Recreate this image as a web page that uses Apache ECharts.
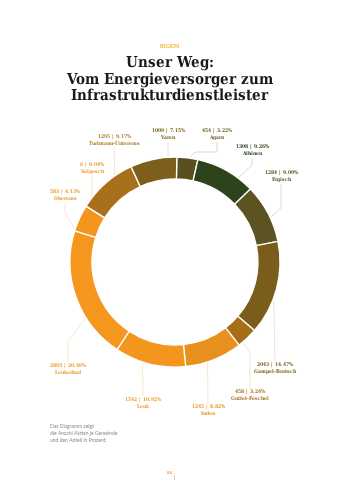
<!DOCTYPE html>
<html>
<head>
<meta charset="utf-8">
<script src="https://cdn.jsdelivr.net/npm/echarts@6/dist/echarts.min.js"></script>
<style>
@font-face { font-family: 'DVSC'; font-weight: bold; src: local('DejaVu Serif Condensed Bold'), local('DejaVuSerifCondensed-Bold'), local('DejaVu Serif Bold'); }
html,body{margin:0;padding:0;background:#fff}#c{width:339px;height:480px}
</style>
</head>
<body>
<div id="c"></div>
<script>
// ---- data ----
const categories = ['Agarn','Albinen','Ergisch','Gampel-Bratsch','Guttet-Feschel','Inden','Leuk','Leukerbad','Oberems','Salgesch','Turtmann-Unterems','Varen'];
const shares = [454, 1308, 1284, 2043, 458, 1245, 1542, 2893, 583, 6, 1295, 1009];
const percents = [3.22, 9.26, 9.09, 14.47, 3.24, 8.82, 10.92, 20.49, 4.13, 0.04, 9.17, 7.15];
const footnoteLines = ['Das Diagramm zeigt', 'die Anzahl Aktien je Gemeinde', 'und den Anteil in Prozent.'];

// ---- styles ----
const FONT = "DVSC, 'DejaVu Serif'";
const segColors = ['#5a4f1f','#2d431c','#5b5322','#7a5d1a','#a66e17','#e8901e','#f4961e','#f5961f','#f4961e','#f4961e','#a8701a','#7d5e1a'];
const labelColors = ['#6b5f2a','#2d431c','#5b5322','#7a5d1a','#a66e17','#ee9424','#f09a2a','#f09a2a','#f09a2a','#f09a2a','#b07a2a','#7d5e1a'];
const lineColors = ['#cfcab8','#cfcab8','#cfcab8','#e2d6bd','#ead7b8','#f6dcb5','#f6dcb5','#f6dcb5','#f6dcb5','#f6dcb5','#f0dcbc','#e2d6bd'];

const CX = 175, CY = 262, R_IN = 83, R_OUT = 105;
// label placement (annotation layout): centre x/y of label block, anchor angle on ring, bend points, line end y
const labelSpec = [
  {x:217, y:134.5, a:81.8, via:[[195,152],[217,152]], end:142},
  {x:252, y:150.5, a:53,   via:[[252,165]], end:158},
  {x:281, y:176.5, a:25,   via:[[281,208]], end:184},
  {x:275, y:368.5, a:-20,  via:[], end:361},
  {x:250, y:395.5, a:-50,  via:[[250,352]], end:388},
  {x:208, y:410.5, a:-72,  via:[], end:403},
  {x:143, y:403.5, a:-108, via:[], end:396},
  {x:68,  y:369.5, a:-148, via:[[68,342]], end:362},
  {x:65,  y:195.5, a:162,  via:[[65,213]], end:203},
  {x:92,  y:168.5, a:null, via:[[92,205]], end:176},
  {x:114, y:140.5, a:125,  via:[], end:148},
  {x:168, y:134.5, a:93.8, via:[], end:142}
];

function render() {
  const data = categories.map((name, i) => ({
    name: name,
    value: shares[i],
    itemStyle: { color: segColors[i] },
    label: {
      rich: {
        v: { fontSize: 5.3, lineHeight: 7, fontWeight: 'bold', color: labelColors[i], fontFamily: FONT },
        n: { fontSize: 5.3, lineHeight: 7, fontWeight: 'bold', color: labelColors[i], fontFamily: FONT }
      }
    },
    labelLine: { lineStyle: { color: lineColors[i], width: 0.7 } }
  }));

  const chart = echarts.init(document.getElementById('c'), null, { renderer: 'canvas' });
  chart.setOption({
    backgroundColor: '#ffffff',
    animation: false,
    title: [
      { text: 'REGION', left: 'center', top: 39,
        textStyle: { fontSize: 5, color: '#f0b23a', fontFamily: 'Lato', fontWeight: 'bold' } },
      { text: 'Unser Weg:\nVom Energieversorger zum\nInfrastrukturdienstleister', left: 'center', top: 50,
        textStyle: { fontSize: 14.8, lineHeight: 16.5, color: '#1a1a1a', fontFamily: FONT, fontWeight: 'bold' } },
      { text: '84', left: 'center', top: 465,
        textStyle: { fontSize: 4.5, color: '#f0a040', fontFamily: 'Lato', fontWeight: 'bold' } }
    ],
    graphic: [
      { type: 'text', left: 50, top: 423,
        style: { text: footnoteLines.join('\n'), fill: '#8a8a8a', font: '5px Lato', lineHeight: 7 } },
      { type: 'line', shape: { x1: 174.5, y1: 475, x2: 174.5, y2: 480 }, style: { stroke: '#f0a040', lineWidth: 0.6 } }
    ],
    series: [{
      type: 'pie',
      center: [CX, CY],
      radius: [R_IN, R_OUT],
      startAngle: 89,
      clockwise: true,
      avoidLabelOverlap: false,
      itemStyle: { borderColor: '#ffffff', borderWidth: 1.3 },
      label: {
        show: true,
        position: 'outside',
        formatter: p => '{v|' + shares[p.dataIndex] + ' | ' + percents[p.dataIndex].toFixed(2) + '%}\n{n|' + p.name + '}'
      },
      labelLine: { show: true, length: 5, length2: 5, smooth: false },
      labelLayout: function (params) {
        const i = params.dataIndex;
        const s = labelSpec[i];
        let start;
        if (s.a === null) {
          start = params.labelLinePoints ? params.labelLinePoints[0] : [CX, CY];
        } else {
          const rad = s.a * Math.PI / 180;
          start = [CX + R_OUT * Math.cos(rad), CY - R_OUT * Math.sin(rad)];
        }
        const pts = [start].concat(s.via).concat([[s.x, s.end]]);
        return { x: s.x, y: s.y, align: 'center', verticalAlign: 'middle', labelLinePoints: pts };
      },
      data: data
    }]
  });
}

let done = false;
function go() { if (!done) { done = true; render(); } }
if (document.fonts && document.fonts.load) {
  document.fonts.load("bold 16px DVSC").then(go, go);
  setTimeout(go, 800);
} else { go(); }
</script>
</body>
</html>
